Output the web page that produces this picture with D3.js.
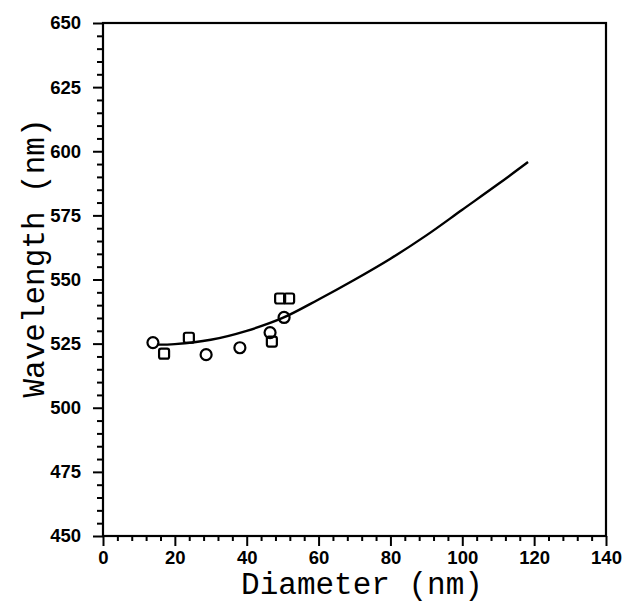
<!DOCTYPE html>
<html><head><meta charset="utf-8">
<script src="https://cdn.jsdelivr.net/npm/d3@7"></script>
<style>body{margin:0;background:#fff}svg{display:block}</style>
</head><body>
<script>
// Data
const circleX = [13.9, 28.7, 38.1, 46.5, 50.4];
const circleY = [525.4, 520.7, 523.4, 529.3, 535.2];
const squareX = [17.0, 23.9, 47.0, 49.3, 51.8];
const squareY = [521.1, 527.3, 525.8, 542.6, 542.6];
const curveX = [15, 20, 30, 40, 50, 60, 70, 80, 90, 100, 110, 118.3];
const curveY = [524.6, 524.8, 526.5, 530.0, 535.0, 542.2, 549.9, 558.1, 567.2, 577.2, 587.2, 595.8];
const xTicks = [0, 20, 40, 60, 80, 100, 120, 140];
const yTicks = [450, 475, 500, 525, 550, 575, 600, 625, 650];

const W = 631, H = 602;
const mL = 103, mR = 606, mT = 23, mB = 536;
const svg = d3.select("body").append("svg").attr("width", W).attr("height", H);
const x = d3.scaleLinear().domain([0, 140]).range([mL, mR]);
const y = d3.scaleLinear().domain([450, 650]).range([mB, mT]);

// frame
svg.append("rect").attr("x", mL).attr("y", mT).attr("width", mR - mL).attr("height", mB - mT)
  .attr("fill", "none").attr("stroke", "#000").attr("stroke-width", 2.2);

// x axis
svg.append("g").attr("transform", `translate(0,${mB})`)
  .call(d3.axisBottom(x).tickValues(xTicks).tickSize(10).tickPadding(5).tickFormat(d3.format("d")));
svg.append("g").attr("transform", `translate(0,${mB})`)
  .call(d3.axisBottom(x).tickValues(d3.range(0, 141, 4).filter(v => v % 20 !== 0)).tickSize(5).tickFormat(""));
// y axis
svg.append("g").attr("transform", `translate(${mL},0)`)
  .call(d3.axisLeft(y).tickValues(yTicks).tickSize(10).tickPadding(12).tickFormat(d3.format("d")));
svg.append("g").attr("transform", `translate(${mL},0)`)
  .call(d3.axisLeft(y).tickValues(d3.range(450, 651, 5).filter(v => v % 25 !== 0)).tickSize(6).tickFormat(""));
svg.selectAll(".domain").remove();
svg.selectAll(".tick line").attr("stroke", "#000").attr("stroke-width", 2);
svg.selectAll(".tick text").attr("font-family", "'Liberation Sans', Arial, sans-serif")
  .attr("font-size", 18.5).attr("fill", "#000").attr("font-weight", "bold");

// axis titles
svg.append("text").attr("x", 362).attr("y", 594).attr("text-anchor", "middle")
  .attr("font-family", "'Liberation Mono', 'Courier New', monospace").attr("font-size", 31)
  .text("Diameter (nm)");
svg.append("text").attr("transform", "translate(44,258) rotate(-90)").attr("text-anchor", "middle")
  .attr("font-family", "'Liberation Mono', 'Courier New', monospace").attr("font-size", 31)
  .text("Wavelength (nm)");

// curve
const curve = curveX.map((v, i) => [v, curveY[i]]);
svg.append("path").datum(curve)
  .attr("d", d3.line().x(d => x(d[0])).y(d => y(d[1])).curve(d3.curveCatmullRom))
  .attr("fill", "none").attr("stroke", "#000").attr("stroke-width", 2.4);

// circles
svg.selectAll("circle.c").data(circleX.map((v, i) => [v, circleY[i]])).enter().append("circle")
  .attr("cx", d => x(d[0])).attr("cy", d => y(d[1])).attr("r", 5.5)
  .attr("fill", "none").attr("stroke", "#000").attr("stroke-width", 2.2);
// squares
svg.selectAll("rect.s").data(squareX.map((v, i) => [v, squareY[i]])).enter().append("rect")
  .attr("x", d => x(d[0]) - 5).attr("y", d => y(d[1]) - 5).attr("width", 10).attr("height", 10)
  .attr("rx", 2).attr("fill", "none").attr("stroke", "#000").attr("stroke-width", 2.2);
</script>
</body></html>
